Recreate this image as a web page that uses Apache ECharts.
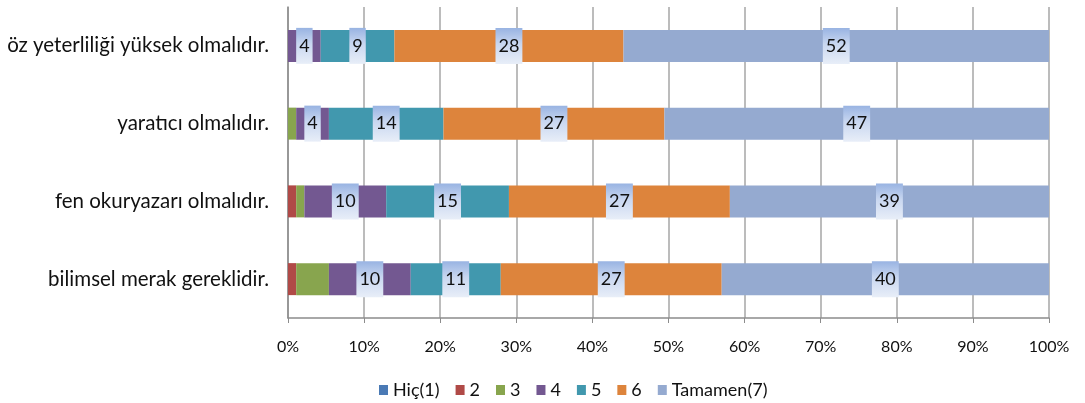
<!DOCTYPE html>
<html>
<head>
<meta charset="utf-8">
<script src="https://cdn.jsdelivr.net/npm/echarts@6/dist/echarts.min.js"></script>
<style>
  html, body { margin: 0; padding: 0; background: #fff; }
  #chart { width: 1085px; height: 403px; }
</style>
</head>
<body>
<div id="chart"></div>
<script>
// Statements, top to bottom
const categories = [
  'öz yeterliliği yüksek olmalıdır.',
  'yaratıcı olmalıdır.',
  'fen okuryazarı olmalıdır.',
  'bilimsel merak gereklidir.'
];

// Response scale
const seriesNames = ['Hiç(1)', '2', '3', '4', '5', '6', 'Tamamen(7)'];

// Number of answers per level, in category order
const hic1     = [0, 0, 0, 0];
const level2   = [0, 0, 1, 1];
const level3   = [0, 1, 1, 4];
const level4   = [4, 4, 10, 10];
const level5   = [9, 14, 15, 11];
const level6   = [28, 27, 27, 27];
const tamamen7 = [52, 47, 39, 40];

const counts = [hic1, level2, level3, level4, level5, level6, tamamen7];
const colors = ['#4a7ab5', '#b04a47', '#88a54e', '#735891', '#4198ae', '#dd843c', '#95aad0'];
const labelled = [false, false, false, true, true, true, true];

const xTicks = [0, 10, 20, 30, 40, 50, 60, 70, 80, 90, 100];

// Row totals so every bar fills 100 %
const totals = categories.map((_, i) => counts.reduce((s, arr) => s + arr[i], 0));

const labelBg = {
  type: 'linear', x: 0, y: 0, x2: 0, y2: 1,
  colorStops: [
    { offset: 0, color: '#98b3e2' },
    { offset: 0.45, color: '#c9d7f0' },
    { offset: 1, color: '#e8eef8' }
  ]
};

const FONT = 'Lato, "Open Sans", sans-serif';

const series = counts.map((arr, s) => ({
  name: seriesNames[s],
  type: 'bar',
  stack: 'total',
  barWidth: 32,
  itemStyle: { color: colors[s] },
  data: arr.map((v, i) => v / totals[i] * 100),
  label: {
    show: labelled[s],
    position: 'inside',
    formatter: p => String(counts[s][p.dataIndex]),
    color: '#111',
    fontFamily: FONT,
    fontSize: 18,
    lineHeight: 18,
    padding: [9, 3, 9, 3],
    backgroundColor: labelBg
  },
  emphasis: { disabled: true }
}));

const chart = echarts.init(document.getElementById('chart'), null, { renderer: 'canvas' });
chart.setOption({
  animation: false,
  color: colors,
  grid: { left: 288, right: 36, top: 7, bottom: 85, containLabel: false },
  legend: {
    data: seriesNames,
    left: 374,
    top: 376,
    itemWidth: 9,
    itemHeight: 10,
    itemGap: 16,
    icon: 'rect',
    textStyle: { fontFamily: FONT, fontSize: 18, color: '#111' }
  },
  xAxis: {
    type: 'value',
    min: xTicks[0],
    max: xTicks[xTicks.length - 1],
    interval: 10,
    axisLine: { show: true, lineStyle: { color: '#8c8c8c', width: 1.5 } },
    axisTick: { show: true, length: 5, lineStyle: { color: '#8c8c8c' } },
    splitLine: { show: true, lineStyle: { color: '#a6a6a6', width: 1.5 } },
    axisLabel: {
      formatter: v => v + '%',
      fontFamily: FONT,
      fontSize: 16,
      color: '#111',
      margin: 21
    }
  },
  yAxis: {
    type: 'category',
    inverse: true,
    data: categories,
    axisLine: { show: true, lineStyle: { color: '#8c8c8c', width: 1.5 } },
    axisTick: { show: false },
    axisLabel: {
      fontFamily: FONT,
      fontSize: 20.5,
      color: '#111',
      margin: 19
    }
  },
  series: series
});
</script>
</body>
</html>
